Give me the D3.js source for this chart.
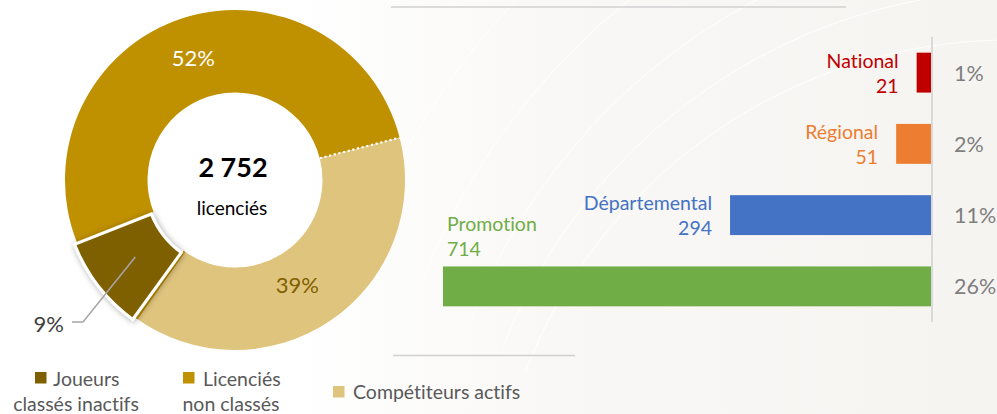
<!DOCTYPE html>
<html>
<head>
<meta charset="utf-8">
<script src="https://cdn.jsdelivr.net/npm/d3@7"></script>
<style>
  html, body { margin: 0; padding: 0; background: #fff; }
  svg { display: block; font-family: "Lato", "Open Sans", sans-serif; font-variant-ligatures: none; }
</style>
</head>
<body>
<svg id="chart" width="997" height="414"></svg>
<script>
// donut data
const donutNames = ["Joueurs classés inactifs", "Licenciés non classés", "Compétiteurs actifs"];
const donutShares = [9, 52, 39];
const donutColors = ["#7f6000", "#bf9000", "#dfc47d"];
const totalText = "2 752";

// bar data
const levels = ["National", "Régional", "Départemental", "Promotion"];
const levelCounts = [21, 51, 294, 714];
const levelShares = ["1%", "2%", "11%", "26%"];
const levelColors = ["#c00000", "#ed7d31", "#4472c4", "#70ad47"];

const svg = d3.select("#chart");

// background
const defs = svg.append("defs");
const bg = defs.append("linearGradient").attr("id", "bg").attr("x1", 0).attr("x2", 1).attr("y1", 0).attr("y2", 0);
bg.append("stop").attr("offset", "0.3").attr("stop-color", "#ffffff");
bg.append("stop").attr("offset", "0.55").attr("stop-color", "#f9f8f6");
bg.append("stop").attr("offset", "1").attr("stop-color", "#f5f4f1");
const shadow = defs.append("filter").attr("id", "shadow").attr("x", "-30%").attr("y", "-30%").attr("width", "160%").attr("height", "160%");
shadow.append("feDropShadow").attr("dx", 1).attr("dy", 1).attr("stdDeviation", 3).attr("flood-color", "#000").attr("flood-opacity", 0.35);

svg.append("rect").attr("width", 997).attr("height", 414).attr("fill", "url(#bg)");

// faint swirl lines
const swirl = svg.append("g").attr("fill", "none").attr("stroke", "#ffffff").attr("stroke-opacity", 0.6);
[520, 560, 610, 680, 760].forEach((r, i) => {
  swirl.append("path")
    .attr("d", d3.arc()({innerRadius: r, outerRadius: r, startAngle: -1.2, endAngle: 0.3}))
    .attr("transform", "translate(" + (1010 + i * 15) + "," + (560 - i * 10) + ")")
    .attr("stroke-width", 1);
});

// separator lines
svg.append("line").attr("x1", 391).attr("x2", 846).attr("y1", 7).attr("y2", 7)
  .attr("stroke", "#d0d0d0").attr("stroke-width", 1.5);
svg.append("line").attr("x1", 393).attr("x2", 575).attr("y1", 355.5).attr("y2", 355.5)
  .attr("stroke", "#d0d0d0").attr("stroke-width", 1.5);

// ---- donut ----
const cx = 235, cy = 180, rIn = 87.5, rOut = 170;
const start = 216 * Math.PI / 180;
const pie = d3.pie().sort(null).startAngle(start).endAngle(start + 2 * Math.PI);
const arcs = pie(donutShares);
const arc = d3.arc().innerRadius(rIn).outerRadius(rOut);
const donut = svg.append("g").attr("transform", "translate(" + cx + "," + cy + ")");

// normal slices
donut.selectAll("path.slice")
  .data(arcs.slice(1))
  .join("path")
  .attr("class", "slice")
  .attr("d", arc)
  .attr("fill", (d, i) => donutColors[i + 1]);

// thin gold edge between inactive and active slices
function radial(angle, r) { return [r * Math.sin(angle), -r * Math.cos(angle)]; }
const edgeA = arcs[2].endAngle - 0.012;
donut.append("line")
  .attr("x1", radial(edgeA, rIn)[0]).attr("y1", radial(edgeA, rIn)[1])
  .attr("x2", radial(edgeA, rOut)[0]).attr("y2", radial(edgeA, rOut)[1])
  .attr("stroke", "#bf9000").attr("stroke-width", 2);

// dotted boundary between non classés and actifs
const dotA = arcs[2].startAngle;
donut.append("line")
  .attr("x1", radial(dotA, rIn)[0]).attr("y1", radial(dotA, rIn)[1])
  .attr("x2", radial(dotA, rOut)[0]).attr("y2", radial(dotA, rOut)[1])
  .attr("stroke", "#ffffff").attr("stroke-width", 2.2).attr("stroke-dasharray", "2.2,2.6");

// exploded slice
const ex = arcs[0];
const exMid = (ex.startAngle + ex.endAngle) / 2;
const off = radial(exMid, 3);
donut.append("path")
  .attr("d", arc(ex))
  .attr("transform", "translate(" + off[0] + "," + off[1] + ")")
  .attr("fill", donutColors[0])
  .attr("stroke", "#ffffff").attr("stroke-width", 3)
  .attr("filter", "url(#shadow)");

// slice labels
const labelArc = d3.arc().innerRadius((rIn + rOut) / 2).outerRadius((rIn + rOut) / 2);
donut.append("text")
  .attr("x", labelArc.centroid(arcs[1])[0] - 2).attr("y", labelArc.centroid(arcs[1])[1] + 8)
  .attr("text-anchor", "middle").attr("font-size", 22).attr("fill", "#ffffff")
  .text(donutShares[1] + "%");
donut.append("text")
  .attr("x", labelArc.centroid(arcs[2])[0] - 10).attr("y", labelArc.centroid(arcs[2])[1] + 7)
  .attr("text-anchor", "middle").attr("font-size", 22).attr("fill", "#7f6000")
  .text(donutShares[2] + "%");

// leader for 9%
const lp = labelArc.centroid(ex);
svg.append("polyline")
  .attr("points", [[cx + lp[0] + 2, cy + lp[1] - 2], [83, 322], [72, 322]].map(p => p.join(",")).join(" "))
  .attr("fill", "none").attr("stroke", "#a6a6a6").attr("stroke-width", 1.5);
svg.append("text").attr("x", 64).attr("y", 332).attr("text-anchor", "end")
  .attr("font-size", 22).attr("fill", "#404040").text(donutShares[0] + "%");

// center text
svg.append("text").attr("x", cx - 2).attr("y", 177).attr("text-anchor", "middle")
  .attr("font-size", 27).attr("font-weight", "bold").attr("fill", "#000").text(totalText);
svg.append("text").attr("x", cx - 3).attr("y", 215).attr("text-anchor", "middle")
  .attr("font-size", 19).attr("fill", "#000").text("licenciés");

// legend
const legend = [
  {sq: [35, 372], lines: [["Joueurs", 53, 386, "start"], ["classés inactifs", 76, 411, "middle"]]},
  {sq: [183, 372], lines: [["Licenciés", 203, 386, "start"], ["non classés", 231, 411, "middle"]]},
  {sq: [333, 386], lines: [["Compétiteurs actifs", 353, 399, "start"]]}
];
const lg = svg.append("g").attr("font-size", 19.5).attr("fill", "#595959");
legend.forEach((l, i) => {
  lg.append("rect").attr("x", l.sq[0]).attr("y", l.sq[1]).attr("width", 11.5).attr("height", 11.5)
    .attr("fill", donutColors[i]);
  l.lines.forEach(t => {
    lg.append("text").attr("x", t[1]).attr("y", t[2]).attr("text-anchor", t[3]).text(t[0]);
  });
});

// ---- bars ----
const axisX = 931;
const x = d3.scaleLinear().domain([0, d3.max(levelCounts)]).range([axisX, 443]);
const y = d3.scaleBand().domain(levels).range([37, 322]).paddingInner(0.44).paddingOuter(0.22);

const bars = svg.append("g");
bars.selectAll("rect")
  .data(levels)
  .join("rect")
  .attr("x", (d, i) => x(levelCounts[i]))
  .attr("y", d => y(d))
  .attr("width", (d, i) => axisX - x(levelCounts[i]))
  .attr("height", y.bandwidth())
  .attr("fill", (d, i) => levelColors[i]);

svg.append("line").attr("x1", axisX + 1).attr("x2", axisX + 1).attr("y1", 37).attr("y2", 322)
  .attr("stroke", "#d9d9d9").attr("stroke-width", 2);

levels.forEach((d, i) => {
  const last = i === levels.length - 1;
  const lx = last ? x(levelCounts[i]) + 4 : x(levelCounts[i]) - 18;
  const y1 = last ? y(d) - 35 : y(d) + 15;
  const y2 = last ? y(d) - 10 : y(d) + y.bandwidth();
  const anchor = last ? "start" : "end";
  svg.append("text").attr("x", lx).attr("y", y1).attr("text-anchor", anchor)
    .attr("font-size", 19.5).attr("fill", levelColors[i]).text(d);
  svg.append("text").attr("x", lx).attr("y", y2).attr("text-anchor", anchor)
    .attr("font-size", 19.5).attr("fill", levelColors[i]).text(levelCounts[i]);
  svg.append("text").attr("x", 954).attr("y", y(d) + y.bandwidth() / 2 + 8)
    .attr("font-size", 21.5).attr("fill", "#7f7f7f").text(levelShares[i]);
});
</script>
</body>
</html>
